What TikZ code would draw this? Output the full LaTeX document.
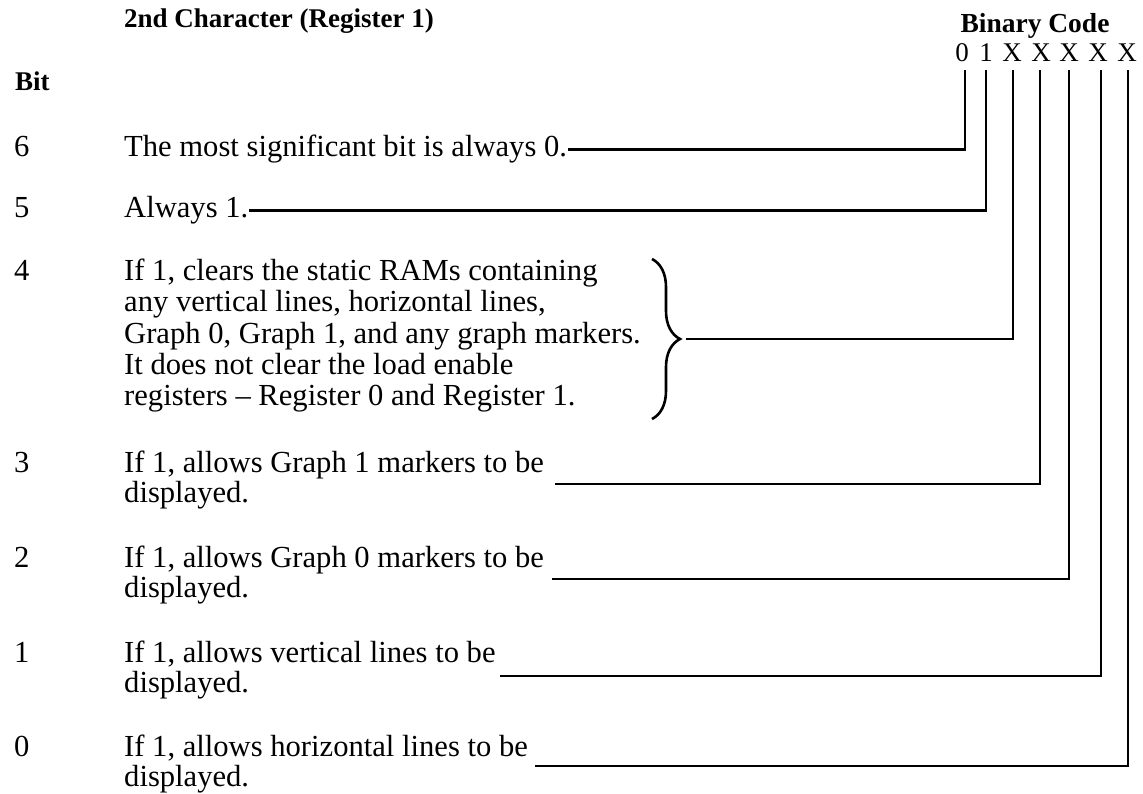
\documentclass[tikz,border=0pt]{standalone}
\usepackage{fontspec}
\setmainfont{Liberation Serif}
\usetikzlibrary{decorations.pathreplacing}
\tikzset{
  body/.style={anchor=base west, inner sep=1pt, font=\fontsize{30.6}{31}\selectfont},
  bitnum/.style={anchor=base west, inner sep=0pt, font=\fontsize{30.6}{31}\selectfont},
  head/.style={anchor=base west, inner sep=0pt, font=\fontsize{27}{30}\selectfont\bfseries},
  digit/.style={anchor=base, inner sep=0pt, font=\fontsize{27}{30}\selectfont},
  conn/.style={line width=2.8pt, line join=miter},
  bracestyle/.style={line width=2.6pt, decorate, decoration={brace, amplitude=28pt}}
}
\begin{document}
\begin{tikzpicture}[x=1pt,y=-1pt]
\useasboundingbox (0,0) rectangle (1143,794);
% headers
\node[head] (title) at (124,28) {2nd Character (Register 1)};
\node[head] (bit) at (15,91) {Bit};
\node[head, anchor=base, font=\fontsize{27.5}{30}\selectfont\bfseries] (bincode) at (1035,33) {Binary Code};
% binary digits
\node[digit] (b6) at (962,62) {0};
\node[digit] (b5) at (986,62) {1};
\node[digit] (b4) at (1012,62) {X};
\node[digit] (b3) at (1041,62) {X};
\node[digit] (b2) at (1069,62) {X};
\node[digit] (b1) at (1098,62) {X};
\node[digit] (b0) at (1127,62) {X};
\coordinate (b6t) at (965,70);
\coordinate (b5t) at (986,70);
\coordinate (b4t) at (1013,70);
\coordinate (b3t) at (1040,70);
\coordinate (b2t) at (1069,70);
\coordinate (b1t) at (1101,70);
\coordinate (b0t) at (1128,70);
% bit numbers
\node[bitnum] (n6) at (14,157) {6};
\node[bitnum] (n5) at (14,218) {5};
\node[bitnum] (n4) at (14,281) {4};
\node[bitnum] (n3) at (14,472) {3};
\node[bitnum] (n2) at (14,567) {2};
\node[bitnum] (n1) at (14,662) {1};
\node[bitnum] (n0) at (14,756) {0};
% descriptions
\node[body] (t6) at (123,157) {The most significant bit is always 0.};
\node[body] (t5) at (123,218) {Always 1.};
\node[body] (t4a) at (123,281) {If 1, clears the static RAMs containing};
\node[body] (t4b) at (123,312) {any vertical lines, horizontal lines,};
\node[body] (t4c) at (123,343) {Graph 0, Graph 1, and any graph markers.};
\node[body] (t4d) at (123,374) {It does not clear the load enable};
\node[body] (t4e) at (123,405) {registers -- Register 0 and Register 1.};
\node[body] (t3a) at (123,472) {If 1, allows Graph 1 markers to be};
\node[body] (t3b) at (123,502) {displayed.};
\node[body] (t2a) at (123,567) {If 1, allows Graph 0 markers to be};
\node[body] (t2b) at (123,597) {displayed.};
\node[body] (t1a) at (123,662) {If 1, allows vertical lines to be};
\node[body] (t1b) at (123,692) {displayed.};
\node[body] (t0a) at (123,756) {If 1, allows horizontal lines to be};
\node[body] (t0b) at (123,786) {displayed.};
% brace
\coordinate (brtop) at (652,259);
\coordinate (brbot) at (652,419);
\draw[bracestyle] (brtop) -- (brbot);
\coordinate (e4) at (686,339);
\coordinate (e3) at (555,484);
\coordinate (e2) at (552,579);
\coordinate (e1) at (500,676);
\coordinate (e0) at (535,766);
% connectors
\draw[conn] (t6.east) -- (t6.east -| b6t) -- (b6t);
\draw[conn] (t5.east) -- (t5.east -| b5t) -- (b5t);
\draw[conn] (e4) -- (e4 -| b4t) -- (b4t);
\draw[conn] (e3) -- (e3 -| b3t) -- (b3t);
\draw[conn] (e2) -- (e2 -| b2t) -- (b2t);
\draw[conn] (e1) -- (e1 -| b1t) -- (b1t);
\draw[conn] (e0) -- (e0 -| b0t) -- (b0t);
\end{tikzpicture}
\end{document}
